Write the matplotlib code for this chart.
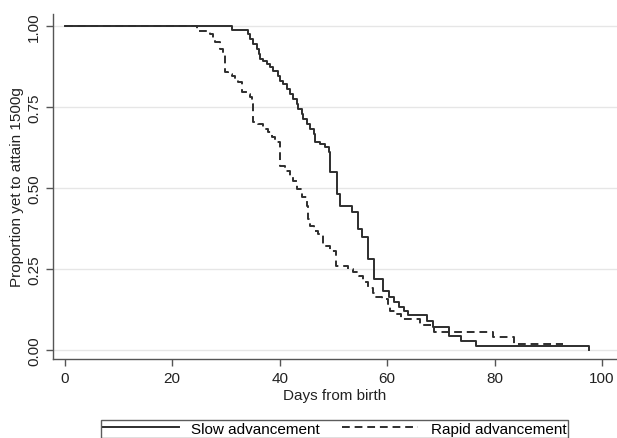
import matplotlib
matplotlib.use("Agg")
import matplotlib.pyplot as plt

plt.rcParams["font.family"] = ["Liberation Sans", "DejaVu Sans"]

# Kaplan-Meier style curves (day of step, proportion after step)
slow_days = [0, 31.2, 34.1, 34.5, 35.1, 35.8, 36.2, 36.4, 36.9, 37.7, 38.2, 38.8, 39.6,
             40.1, 40.7, 41.4, 42.0, 42.5, 43.3, 43.5, 44.2, 44.4, 45.1, 45.7, 46.3,
             46.6, 47.6, 48.5, 49.1, 49.4, 50.7, 51.3, 53.5, 54.5, 55.4, 56.5, 57.5,
             59.3, 60.3, 61.2, 62.3, 63.1, 63.8, 67.5, 68.5, 71.5, 73.7, 76.5, 97.6]
slow_surv = [1.0, 0.988, 0.975, 0.960, 0.944, 0.929, 0.914, 0.898, 0.892, 0.883, 0.873,
             0.861, 0.846, 0.830, 0.821, 0.806, 0.790, 0.775, 0.759, 0.744, 0.728, 0.713,
             0.698, 0.682, 0.667, 0.642, 0.636, 0.627, 0.611, 0.549, 0.481, 0.444, 0.426,
             0.373, 0.349, 0.281, 0.219, 0.182, 0.164, 0.148, 0.133, 0.120, 0.108, 0.090,
             0.071, 0.043, 0.028, 0.012, 0.0]

rapid_days = [0, 24.6, 27.1, 27.6, 28.0, 28.9, 29.5, 29.9, 30.4, 31.2, 31.7, 32.3, 33.0,
              34.0, 34.5, 34.9, 35.1, 36.0, 36.9, 37.9, 38.6, 39.2, 40.1, 41.0, 42.0,
              42.5, 43.3, 44.2, 45.1, 45.3, 45.7, 46.3, 47.2, 48.1, 49.4, 50.4, 52.8,
              53.7, 54.7, 55.6, 56.5, 57.3, 57.8, 59.1, 60.1, 60.6, 61.6, 62.5, 66.2,
              68.7, 79.7, 83.6, 92.7]
rapid_surv = [1.0, 0.985, 0.975, 0.960, 0.951, 0.929, 0.914, 0.858, 0.852, 0.846, 0.836,
              0.827, 0.796, 0.790, 0.781, 0.759, 0.704, 0.698, 0.682, 0.673, 0.657, 0.642,
              0.568, 0.552, 0.534, 0.522, 0.497, 0.472, 0.444, 0.404, 0.383, 0.367, 0.358,
              0.321, 0.306, 0.259, 0.250, 0.241, 0.228, 0.210, 0.191, 0.176, 0.164, 0.157,
              0.142, 0.120, 0.111, 0.096, 0.077, 0.056, 0.040, 0.019, 0.019]

x_ticks = [0, 20, 40, 60, 80, 100]
y_ticks = [0.0, 0.25, 0.5, 0.75, 1.0]
y_tick_labels = ["0.00", "0.25", "0.50", "0.75", "1.00"]

fig = plt.figure(figsize=(6.17, 4.39), dpi=100)
ax = fig.add_axes([53 / 617, 1 - 360 / 439, 1 - 53 / 617, (360 - 15) / 439])

line_color = "#2e2e2e"
ax.plot(slow_days, slow_surv, drawstyle="steps-post", color=line_color, lw=1.4,
        label="Slow advancement")
ax.plot(rapid_days, rapid_surv, drawstyle="steps-post", color=line_color, lw=1.4,
        linestyle=(0, (4.0, 2.5)), label="Rapid advancement")

ax.set_xlim(-2.2, 102.8)
ax.set_ylim(-0.028, 1.037)
ax.set_xticks(x_ticks)
ax.set_yticks(y_ticks)
ax.set_yticklabels(y_tick_labels, rotation=90, va="center")
ax.grid(axis="y", color="#e6e6e6", lw=1.0)
ax.set_axisbelow(True)

for side in ["top", "right"]:
    ax.spines[side].set_visible(False)
for side in ["left", "bottom"]:
    ax.spines[side].set_color("#555555")
    ax.spines[side].set_linewidth(1.0)
ax.tick_params(colors="#555555", labelcolor="#222222", labelsize=11, length=5, width=1)

ax.set_xlabel("Days from birth", fontsize=11, color="#222222", labelpad=2)
ax.set_ylabel("Proportion yet to attain 1500g", fontsize=11, color="#222222", labelpad=2)

fig.legend(loc="upper left", bbox_to_anchor=(101 / 617, 1 - 421 / 439, 467 / 617, 0.0),
           mode="expand", ncol=2, fontsize=11, frameon=True, fancybox=False,
           edgecolor="#333333", handlelength=5.0, borderpad=0.12, columnspacing=1.5,
           borderaxespad=0)

fig.savefig("out.png", dpi=100)
